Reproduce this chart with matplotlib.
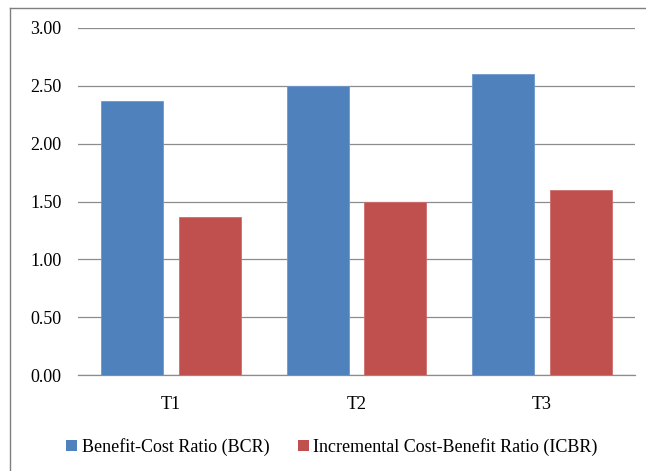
import matplotlib
matplotlib.use("Agg")
import matplotlib.pyplot as plt
from matplotlib.lines import Line2D
from matplotlib.patches import Patch
import numpy as np

categories = ["T1", "T2", "T3"]
bcr = [2.37, 2.50, 2.60]
icbr = [1.37, 1.50, 1.60]
series_names = ["Benefit-Cost Ratio (BCR)", "Incremental Cost-Benefit Ratio (ICBR)"]
yticks = [0.0, 0.5, 1.0, 1.5, 2.0, 2.5, 3.0]

blue = "#4F81BD"
red = "#C0504D"
grid_col = "#8C8C8C"

plt.rcParams["font.family"] = ["Liberation Serif", "DejaVu Serif"]

fig = plt.figure(figsize=(6.46, 4.71), dpi=100)
ax = fig.add_axes([78 / 646, 1 - 375 / 471, (635 - 78) / 646, (375 - 28) / 471])

x = np.arange(len(categories))
w = 0.334
off = 0.209
ax.bar(x - off, bcr, w, color=blue, edgecolor="#6E98CC", linewidth=0.6, zorder=3)
ax.bar(x + off, icbr, w, color=red, edgecolor="#CC6E6B", linewidth=0.6, zorder=3)

ax.set_xlim(-0.5, 2.5)
ax.set_ylim(0, 3.0)
ax.set_yticks(yticks)
ax.set_yticklabels([f"{v:.2f}" for v in yticks], fontsize=13)
ax.set_xticks(x)
ax.set_xticklabels(categories, fontsize=13)
ax.tick_params(axis="both", length=0, colors="#000000")
ax.tick_params(axis="y", pad=12)
ax.tick_params(axis="x", pad=15)
ax.yaxis.grid(True, color=grid_col, linewidth=0.9, zorder=0)
for s in ["top", "right", "left"]:
    ax.spines[s].set_visible(False)
ax.spines["bottom"].set_color(grid_col)
ax.spines["bottom"].set_linewidth(0.9)

# outer chart border (partly clipped at right and bottom)
fig.add_artist(Line2D([10 / 646, 10 / 646], [1 - 8 / 471, 0], transform=fig.transFigure,
                      color="#7F7F7F", linewidth=1.0))
fig.add_artist(Line2D([10 / 646, 1], [1 - 8 / 471, 1 - 8 / 471], transform=fig.transFigure,
                      color="#7F7F7F", linewidth=1.0))

handles = [Patch(facecolor=blue), Patch(facecolor=red)]
fig.legend(handles, series_names, loc="center", bbox_to_anchor=(332 / 646, 1 - 447 / 471),
           ncol=2, frameon=False, fontsize=13, handlelength=0.6, handleheight=0.6,
           handletextpad=0.25, columnspacing=1.6)

fig.savefig("out.png", dpi=100)
